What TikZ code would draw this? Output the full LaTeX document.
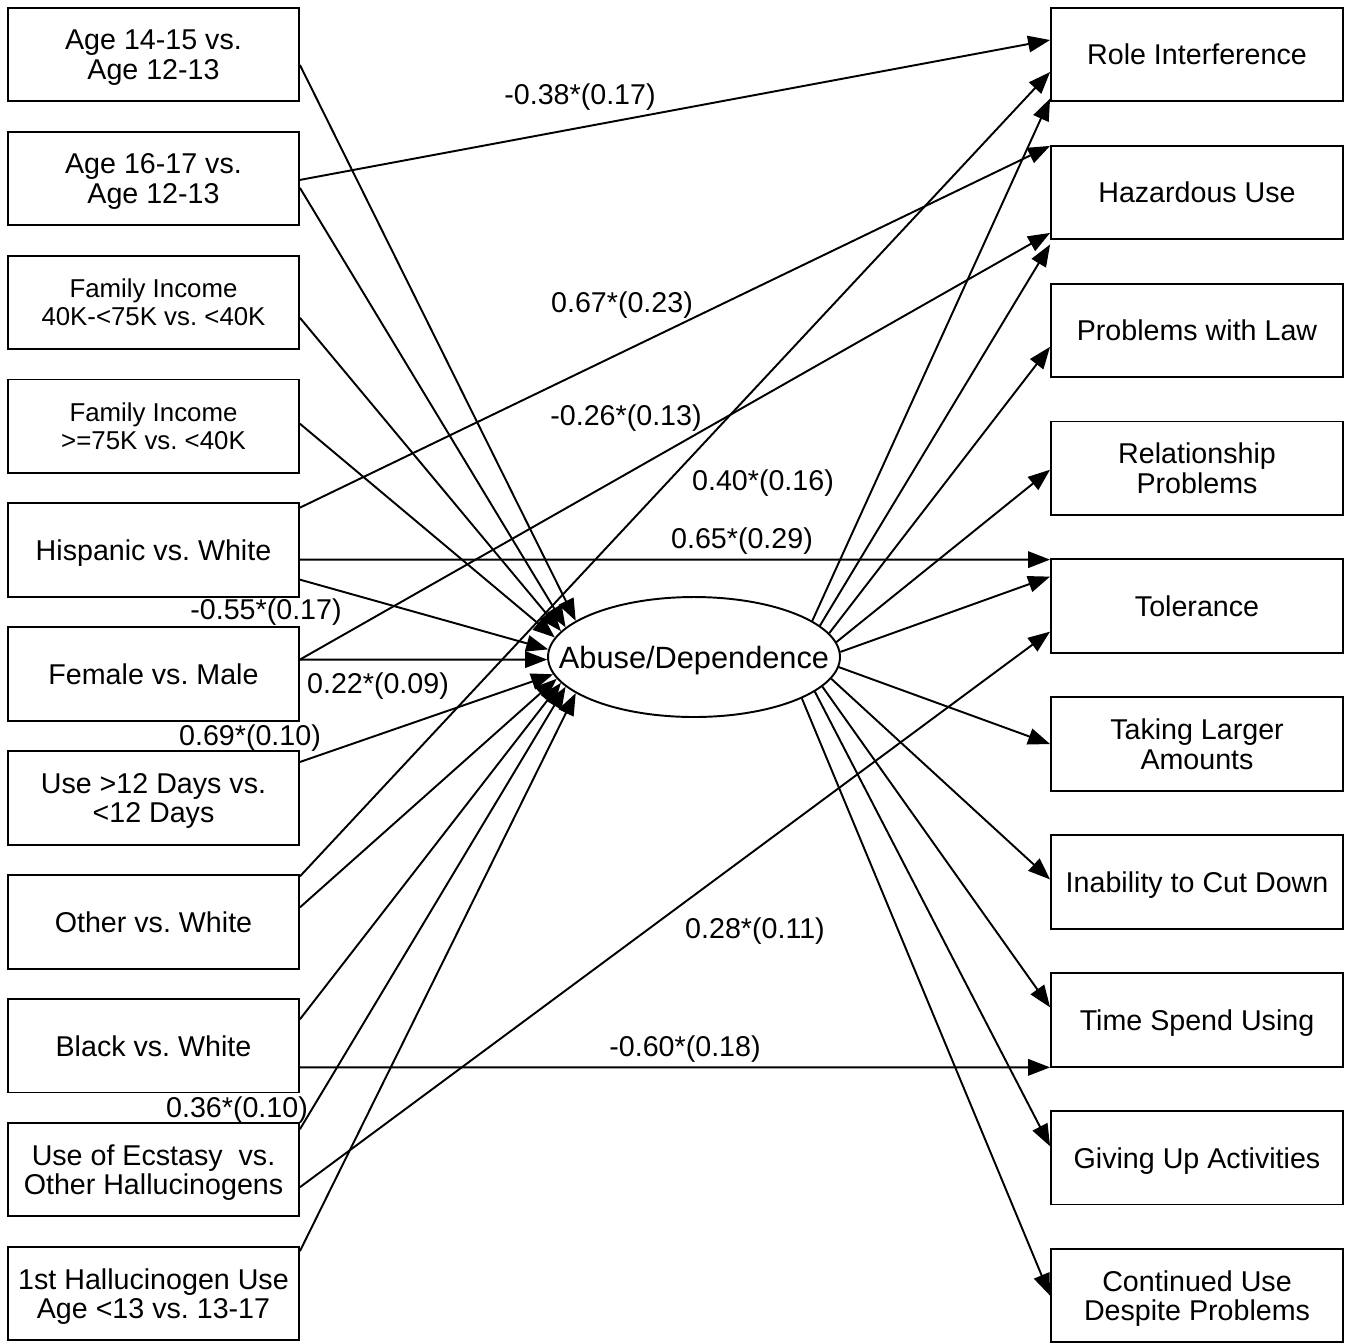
\documentclass[tikz,border=0pt]{standalone}
\usepackage{fontspec}
\setmainfont{Liberation Sans}
\usetikzlibrary{positioning,arrows.meta,shapes.geometric,calc}
\frenchspacing

\begin{document}
\begin{tikzpicture}[x=0.02cm,y=-0.02cm,>={Triangle[length=0.44cm,width=0.33cm]},
  font=\fontsize{16.3}{17}\selectfont,
  wire/.style={line width=1.1pt,->},
  var/.style={draw,line width=1.1pt,minimum width=5.82cm,minimum height=1.87cm,align=center,inner sep=0pt,text depth=-3.4pt},
  inc/.style={var,font=\fontsize{14.7}{16}\selectfont},
  sym/.style={var,minimum width=5.84cm},
  coef/.style={inner sep=0pt}]
  \useasboundingbox (0,0) rectangle (1351,1343);
  % predictors
  \node[var] (age1) at (153.5,54.5) {Age 14-15 vs.\\Age 12-13};
  \node[var,below=0.57cm of age1] (age2) {Age 16-17 vs.\\Age 12-13};
  \node[inc,below=0.57cm of age2] (inc1) {Family Income\\40K-<75K vs. <40K};
  \node[inc,below=0.57cm of inc1] (inc2) {Family Income\\>=75K vs. <40K};
  \node[var,below=0.57cm of inc2] (hisp) {Hispanic vs. White};
  \node[var,below=0.57cm of hisp] (fem) {Female vs. Male};
  \node[var,below=0.57cm of fem] (days) {Use >12 Days vs.\\<12 Days};
  \node[var,below=0.57cm of days] (oth) {Other vs. White};
  \node[var,below=0.57cm of oth] (blk) {Black vs. White};
  \node[var,below=0.57cm of blk] (ecst) {Use of Ecstasy\ \ vs.\\Other Hallucinogens};
  \node[var,below=0.57cm of ecst] (first) {1st Hallucinogen Use\\Age <13 vs. 13-17};
  % symptoms
  \node[sym] (role) at (1197,54.5) {Role Interference};
  \node[sym,below=0.85cm of role] (haz) {Hazardous Use};
  \node[sym,below=0.85cm of haz] (law) {Problems with Law};
  \node[sym,below=0.85cm of law] (rel) {Relationship\\Problems};
  \node[sym,below=0.85cm of rel] (tol) {Tolerance};
  \node[sym,below=0.85cm of tol] (large) {Taking Larger\\Amounts};
  \node[sym,below=0.85cm of large] (cut) {Inability to Cut Down};
  \node[sym,below=0.85cm of cut] (time) {Time Spend Using};
  \node[sym,below=0.85cm of time] (give) {Giving Up Activities};
  \node[sym,below=0.85cm of give] (cont) {Continued Use\\Despite Problems};
  % factor
  \node[draw,ellipse,line width=1.1pt,minimum width=5.84cm,minimum height=2.4cm,inner sep=0pt,text depth=-4pt,font=\fontsize{17.5}{19}\selectfont] (abuse) at (694,657) {\makebox[0pt]{Abuse/Dependence}};
  % paths into the factor
  \draw[wire] ($(age1.east)+(0,10.5)$) -- (abuse.163.2);
  \draw[wire] ($(age2.east)+(0,9.5)$) -- (abuse.167.8);
  \draw[wire] ($(inc1.east)+(0,15.5)$) -- (abuse.169.6);
  \draw[wire] ($(inc2.east)+(0,-2.5)$) -- (abuse.172.8);
  \draw[wire] ($(hisp.east)+(0,29.5)$) -- (abuse.177.2);
  \draw[wire] ($(fem.east)+(0,-14.5)$) -- (abuse.181.2);
  \draw[wire] ($(days.east)+(0,-36)$) -- (abuse.187.6);
  \draw[wire] ($(oth.east)+(0,-14.5)$) -- (abuse.189.4);
  \draw[wire] ($(blk.east)+(0,-26.5)$) -- (abuse.191.7);
  \draw[wire] ($(ecst.east)+(0,-40.5)$) -- (abuse.193.6);
  \draw[wire] ($(first.east)+(0,-42.5)$) -- (abuse.197.5);
  % factor loadings
  \draw[wire] (abuse.17.7) -- ($(role.west)+(0,44)$);
  \draw[wire] (abuse.14.3) -- ($(haz.west)+(0,52)$);
  \draw[wire] (abuse.10.6) -- ($(law.west)+(0,16.5)$);
  \draw[wire] (abuse.6.9) -- ($(rel.west)+(0,1.5)$);
  \draw[wire] (abuse.2.7) -- ($(tol.west)+(0,-29.5)$);
  \draw[wire] (abuse.356.1) -- (large.west);
  \draw[wire] (abuse.351.4) -- ($(cut.west)+(0,-2.5)$);
  \draw[wire] (abuse.347.8) -- ($(time.west)+(0,-12.5)$);
  \draw[wire] (abuse.344.5) -- ($(give.west)+(0,-11.5)$);
  \draw[wire] (abuse.339.8) -- (cont.west);
  % direct effects
  \draw[wire] ($(age2.east)+(0,1.5)$) -- ($(role.west)+(0,-14.5)$);
  \draw[wire] ($(hisp.east)+(0,-42.5)$) -- ($(haz.west)+(0,-46.5)$);
  \draw[wire] ($(fem.east)+(0,-14.5)$) -- ($(haz.west)+(0,40.5)$);
  \draw[wire] ($(oth.east)+(0,-45.5)$) -- ($(role.west)+(0,17.5)$);
  \draw[wire] ($(hisp.east)+(0,9.5)$) -- ($(tol.west)+(0,-46.5)$);
  \draw[wire] ($(blk.east)+(0,21.5)$) -- ($(time.west)+(0,47.5)$);
  \draw[wire] ($(ecst.east)+(0,17.5)$) -- ($(tol.west)+(0,25.5)$);
  % estimates
  \node[coef] (e1) at (580,97) {-0.38*(0.17)};
  \node[coef] (e2) at (622,305) {0.67*(0.23)};
  \node[coef] (e3) at (626,418) {-0.26*(0.13)};
  \node[coef] (e4) at (763,483) {0.40*(0.16)};
  \node[coef] (e5) at (742,541) {0.65*(0.29)};
  \node[coef] (e6) at (266,612) {-0.55*(0.17)};
  \node[coef] (e7) at (378,686) {0.22*(0.09)};
  \node[coef] (e8) at (250,738) {0.69*(0.10)};
  \node[coef] (e9) at (755,931) {0.28*(0.11)};
  \node[coef] (e10) at (685,1049) {-0.60*(0.18)};
  \node[coef] (e11) at (237,1110) {0.36*(0.10)};
\end{tikzpicture}
\end{document}
